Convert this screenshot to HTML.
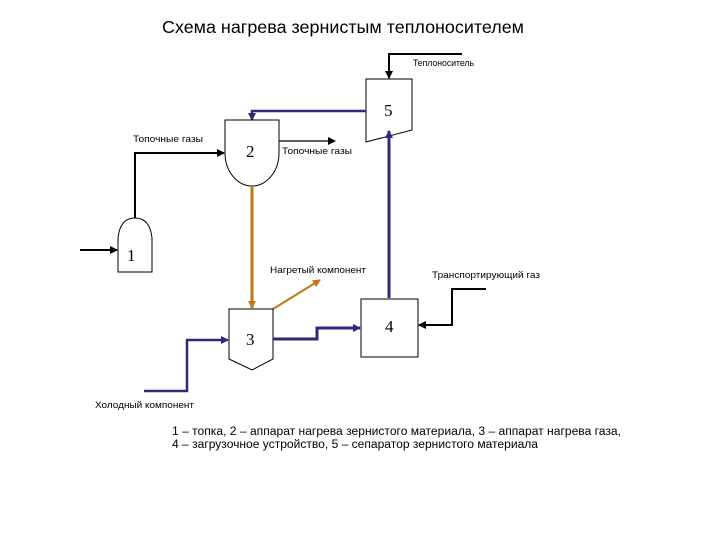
<!DOCTYPE html>
<html><head><meta charset="utf-8"><style>
body{margin:0;background:#fff}
svg{display:block}
text{font-family:"Liberation Sans",sans-serif;fill:#000}
.s{font-size:9.5px}
.n{font-family:"Liberation Serif",serif;font-size:17px}
</style></head><body>
<svg width="720" height="540" viewBox="0 0 720 540" xmlns="http://www.w3.org/2000/svg">
<defs>
<marker id="ab" markerWidth="8" markerHeight="8" refX="7" refY="4" orient="auto" markerUnits="userSpaceOnUse"><path d="M0,0L8,4L0,8z" fill="#000"/></marker>
<marker id="au" markerWidth="8" markerHeight="8" refX="7" refY="4" orient="auto" markerUnits="userSpaceOnUse"><path d="M0,0L8,4L0,8z" fill="#2e2a7a"/></marker>
<marker id="ao" markerWidth="8" markerHeight="8" refX="7" refY="4" orient="auto" markerUnits="userSpaceOnUse"><path d="M0,0L8,4L0,8z" fill="#c07818"/></marker>
</defs>
<text x="162" y="33" style="font-size:17.5px" textLength="362" lengthAdjust="spacingAndGlyphs">Схема нагрева зернистым теплоносителем</text>
<!-- unit 5 -->
<path d="M366,79H412V130L366,142Z" fill="#fff" stroke="#000" stroke-width="1"/>
<text x="384" y="116" class="n">5</text>
<polyline points="462,54 389,54 389,78" fill="none" stroke="#000" stroke-width="2" marker-end="url(#ab)"/>
<text x="413" y="66" class="s" textLength="61" lengthAdjust="spacingAndGlyphs">Теплоноситель</text>
<polyline points="366,111 252,111 252,120" fill="none" stroke="#2e2a7a" stroke-width="2.5" marker-end="url(#au)"/>
<!-- unit 2 -->
<path d="M225,120H279V153A27,33 0 0 1 225,153Z" fill="#fff" stroke="#000"/>
<text x="246" y="157" class="n">2</text>
<polyline points="135,218 135,153 224,153" fill="none" stroke="#000" stroke-width="2" marker-end="url(#ab)"/>
<text x="133" y="142" class="s" textLength="70" lengthAdjust="spacingAndGlyphs">Топочные газы</text>
<line x1="279" y1="141" x2="335" y2="141" stroke="#000" stroke-width="1.2" marker-end="url(#ab)"/>
<text x="282" y="154" class="s" textLength="70" lengthAdjust="spacingAndGlyphs">Топочные газы</text>
<!-- unit 1 -->
<path d="M118,272V238Q120,218 135,218Q150,218 152,238V272Z" fill="#fff" stroke="#000"/>
<text x="127" y="261" class="n">1</text>
<line x1="80" y1="250" x2="117" y2="250" stroke="#000" stroke-width="2" marker-end="url(#ab)"/>
<!-- orange -->
<line x1="252" y1="186" x2="252" y2="308" stroke="#c07818" stroke-width="3" marker-end="url(#ao)"/>
<line x1="273" y1="309" x2="320" y2="280" stroke="#c07818" stroke-width="2" marker-end="url(#ao)"/>
<text x="270" y="273" class="s" textLength="96" lengthAdjust="spacingAndGlyphs">Нагретый компонент</text>
<!-- unit 3 -->
<path d="M229,309H273V359L252,370L229,359Z" fill="#fff" stroke="#000"/>
<text x="246" y="345" class="n">3</text>
<polyline points="144,391 187,391 187,340 228,340" fill="none" stroke="#2e2a7a" stroke-width="2.5" marker-end="url(#au)"/>
<text x="95" y="408" class="s" textLength="99" lengthAdjust="spacingAndGlyphs">Холодный компонент</text>
<polyline points="273,339 317,339 317,328 360,328" fill="none" stroke="#2e2a7a" stroke-width="3" marker-end="url(#au)"/>
<!-- unit 4 -->
<rect x="361" y="299" width="57" height="58" fill="#fff" stroke="#000"/>
<text x="385" y="332" class="n">4</text>
<line x1="389" y1="298" x2="389" y2="131" stroke="#2e2a7a" stroke-width="3" marker-end="url(#au)"/>
<polyline points="486,289 452,289 452,325 419,325" fill="none" stroke="#000" stroke-width="2" marker-end="url(#ab)"/>
<text x="432" y="278" class="s" textLength="108" lengthAdjust="spacingAndGlyphs">Транспортирующий газ</text>
<text x="172" y="435" style="font-size:11.5px" textLength="449" lengthAdjust="spacingAndGlyphs">1 – топка, 2 – аппарат нагрева зернистого материала, 3 – аппарат нагрева газа,</text>
<text x="172" y="448" style="font-size:11.5px" textLength="366" lengthAdjust="spacingAndGlyphs">4 – загрузочное устройство, 5 – сепаратор зернистого материала</text>
</svg>
</body></html>
